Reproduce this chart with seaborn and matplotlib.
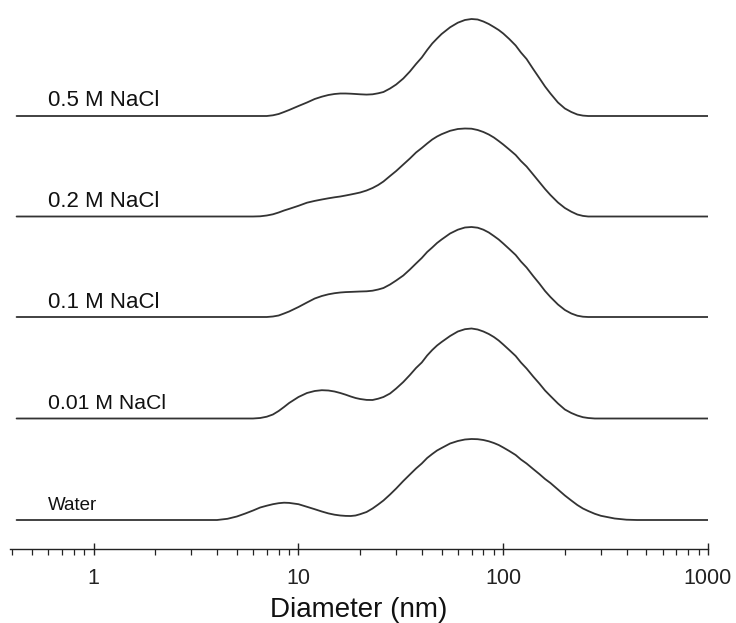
import numpy as np
import pandas as pd
import matplotlib
matplotlib.use("Agg")
import matplotlib.pyplot as plt
import seaborn as sns

# Diameter grid (nm)
diameter = [0.42, 3, 4, 4.5, 5, 5.5, 6, 6.5, 7, 7.5,
            8, 8.5, 9, 10, 11, 12, 13, 14, 15, 16,
            17, 18, 19, 20, 21.5, 23, 24.5, 26, 28, 30,
            32.5, 35, 37.5, 40, 42.5, 45, 47.5, 50, 55, 60,
            65, 70, 75, 80, 85, 90, 95, 100, 107, 115,
            122, 130, 140, 150, 160, 170, 185, 200, 215, 230,
            245, 260, 280, 300, 350, 400, 450, 500, 1000]

# Intensities (arbitrary units)
water = [0, 0, 0, 1.2, 3.5, 6.5, 9.5, 12.5, 14.3, 15.8,
         16.8, 17.3, 17.1, 15.8, 13.2, 10.8, 8.5, 6.6, 5.3, 4.5,
         4.1, 4.0, 4.5, 5.8, 8, 11.5, 15.5, 19.5, 25.5, 31.5,
         39, 45.5, 51.5, 56.5, 62, 66, 69.5, 72, 76.5, 79,
         80.5, 81, 80.8, 80, 78.7, 77, 75, 72.5, 69, 65,
         60.5, 56.5, 51, 46, 41, 37, 30.5, 24.5, 19.5, 15,
         11.5, 9, 6.2, 4.2, 1.5, 0.3, 0, 0, 0]
nacl_001 = [0, 0, 0, 0, 0, 0, 0, 0.5, 1.8, 4,
            7.5, 11.5, 15.5, 21.5, 25.5, 27.5, 28.3, 28, 27, 25.5,
            23.8, 22, 20.5, 19.5, 18.6, 18.5, 19.8, 21.5, 25, 30,
            36.5, 43.5, 50.5, 56, 63, 68.5, 73, 76.5, 82.5, 87,
            89.3, 90, 89, 87, 84.5, 81.5, 78, 74, 68.5, 62.5,
            56, 50, 42, 35, 28, 22.5, 15, 9, 5.5, 3,
            1.3, 0.5, 0, 0, 0, 0, 0, 0, 0]
nacl_01 = [0, 0, 0, 0, 0, 0, 0, 0, 0, 0.5,
           1.5, 3.5, 5.5, 10, 14.5, 18.5, 21, 22.7, 23.8, 24.5,
           24.9, 25.1, 25.3, 25.5, 25.7, 26.3, 27.5, 29, 32.5, 36.5,
           41.5, 47.5, 53.5, 59, 65, 69.5, 74, 77.5, 83.5, 87.3,
           89.5, 90, 89.3, 87.3, 84.5, 81, 77.5, 73.5, 68, 62,
           55.5, 49.5, 41, 33.5, 26, 20, 12.5, 7, 3.5, 1.3,
           0.3, 0, 0, 0, 0, 0, 0, 0, 0]
nacl_02 = [0, 0, 0, 0, 0, 0, 0, 0.2, 1, 2.2,
           4, 6, 7.6, 10.7, 13.8, 15.6, 17, 18.2, 19.2, 20,
           21, 22, 23, 24, 26, 28.5, 31.5, 35, 40.5, 45.5,
           52, 58, 64, 68.5, 73, 77, 80, 82.3, 85.7, 87.5,
           88, 87.8, 86.5, 84.5, 82, 79, 75.5, 72, 67, 61.5,
           55.5, 50, 42, 34.5, 27.5, 21.5, 14, 8.5, 4.8, 2,
           0.6, 0, 0, 0, 0, 0, 0, 0, 0]
nacl_05 = [0, 0, 0, 0, 0, 0, 0, 0, 0, 0.7,
           2, 4, 6, 10, 13.5, 17, 19.3, 21, 22, 22.5,
           22.5, 22.3, 22, 21.7, 21.4, 21.7, 22.7, 24, 27.5, 31.5,
           37.5, 44.5, 52, 58.5, 66, 72.5, 77.5, 82, 88.7, 93.3,
           96, 97, 96.5, 94.5, 92, 89, 86, 82.5, 77, 70.5,
           63.5, 57, 47, 38, 29.5, 22.5, 13.5, 7.5, 4, 1.5,
           0.4, 0, 0, 0, 0, 0, 0, 0, 0]

labels = ["Water", "0.01 M NaCl", "0.1 M NaCl", "0.2 M NaCl", "0.5 M NaCl"]
series = [water, nacl_001, nacl_01, nacl_02, nacl_05]
offsets = [0, 101.5, 203, 303.5, 404]

sns.set_theme(style="white")
plt.rcParams["font.family"] = ["Liberation Sans", "DejaVu Sans"]

fig = plt.figure(figsize=(7.36, 6.23), dpi=100)
ax = fig.add_axes([10 / 736, 1 - 549 / 623, (708 - 10) / 736, (549 - 5) / 623])

line_color = "#333333"
for lab, vals, off in zip(labels, series, offsets):
    df = pd.DataFrame({"d": diameter, "y": np.array(vals, dtype=float) + off})
    sns.lineplot(data=df, x="d", y="y", ax=ax, color=line_color, linewidth=1.3,
                 estimator=None, sort=False, solid_joinstyle="round")

label_sizes = {"Water": 13.5, "0.01 M NaCl": 15.3}
for lab, off in zip(labels, offsets):
    ax.text(0.6, off + 15, lab, ha="left", va="center",
            fontsize=label_sizes.get(lab, 16), color="#111111")

ax.set_xscale("log")
ax.set_xlim(0.39, 1000)
ax.set_ylim(-29, 515)
ax.set_xticks([1, 10, 100, 1000])
ax.set_xticklabels(["1", "10", "100", "1000"])
ax.set_yticks([])
ax.set_ylabel("")
ax.set_xlabel("Diameter (nm)", fontsize=20, color="#111111", labelpad=6)
ax.tick_params(axis="x", which="major", direction="inout", length=9, width=1,
               labelsize=15.5, colors="#222222", pad=9, bottom=True)
ax.tick_params(axis="x", which="minor", direction="out", length=4, width=0.9,
               colors="#222222", bottom=True)
ax.xaxis.set_minor_locator(matplotlib.ticker.LogLocator(base=10, subs=np.arange(2, 10)))
ax.xaxis.set_minor_formatter(matplotlib.ticker.NullFormatter())

for s in ["left", "top", "right"]:
    ax.spines[s].set_visible(False)
ax.spines["bottom"].set_color("#222222")
ax.spines["bottom"].set_linewidth(1.0)

fig.savefig("out.png", dpi=100)
